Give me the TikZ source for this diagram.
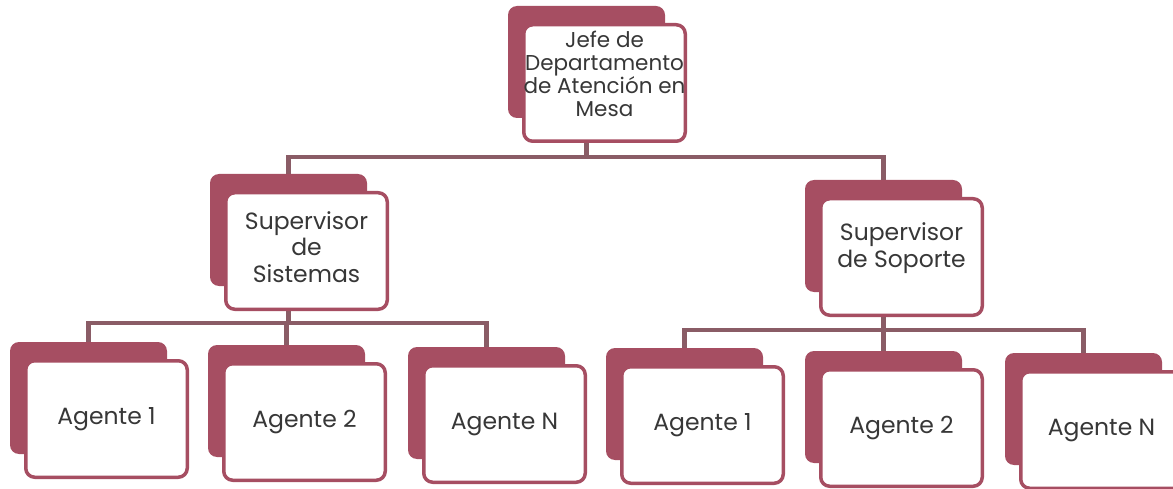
\documentclass[tikz,border=0pt]{standalone}
\usepackage{fontspec}
\setmainfont{Poppins}
\usetikzlibrary{backgrounds}
\definecolor{maroon}{RGB}{166,78,98}
\definecolor{linec}{RGB}{138,92,102}
\definecolor{txt}{RGB}{55,55,55}
\newcommand{\orgbox}[6]{%
  \node[backbox] (#1-b) at ({#2+78.5},{#3+56}) {};
  \node[frontbox] (#1) at ({#2+96.5},{#3+77}) {};
  \node[lbl,#5] (#1-t) at ({#2+96.5},{#3+77+#4}) {#6};
}
\begin{document}
\begin{tikzpicture}[x=1pt,y=-1pt,
  backbox/.style={fill=maroon, draw=none, rounded corners=9pt, minimum width=157pt, minimum height=112pt, inner sep=0pt},
  frontbox/.style={fill=white, draw=maroon, line width=3.5pt, rounded corners=9pt, minimum width=161.5pt, minimum height=116.5pt, inner sep=0pt},
  lbl/.style={font=\fontsize{23.5}{26.5}\selectfont, text=txt, align=center, inner sep=0pt},
  small/.style={font=\fontsize{21.5}{23}\selectfont},
  conn/.style={draw=linec, line width=4.5pt}]
\useasboundingbox (0,0) rectangle (1173,489);
\orgbox{jefe}{508}{6}{-9}{small}{Jefe de\\Departamento\\de Atención en\\Mesa}
\orgbox{sis}{210}{174}{-4}{}{Supervisor\\de\\Sistemas}
\orgbox{sop}{805}{180}{-9}{}{Supervisor\\de Soporte}
\orgbox{la}{10}{342}{0}{}{Agente 1}
\orgbox{lb}{208}{345}{0}{}{Agente 2}
\orgbox{lc}{408}{347}{0}{}{Agente N}
\orgbox{ra}{606}{348}{0}{}{Agente 1}
\orgbox{rb}{805}{351}{0}{}{Agente 2}
\orgbox{rc}{1005}{353}{0}{}{Agente N}
\coordinate (bus0) at (0,157);
\coordinate (bus1) at (0,323);
\coordinate (bus2) at (0,330);
\begin{pgfonlayer}{background}
\draw[conn] (jefe-b.south |- jefe.south) -- (jefe-b.south |- bus0);
\draw[conn] (sis-b.north) |- (sop-b.north |- bus0) -- (sop-b.north);
\draw[conn] (sis-b.south |- sis.south) -- (sis-b.south |- bus1);
\draw[conn] (la-b.north) |- (lc-b.north |- bus1) -- (lc-b.north);
\draw[conn] (lb-b.north) -- (lb-b.north |- bus1);
\draw[conn] (sop-b.south |- sop.south) -- (sop-b.south |- bus2);
\draw[conn] (ra-b.north) |- (rc-b.north |- bus2) -- (rc-b.north);
\draw[conn] (rb-b.north) -- (rb-b.north |- bus2);
\end{pgfonlayer}
\end{tikzpicture}
\end{document}
